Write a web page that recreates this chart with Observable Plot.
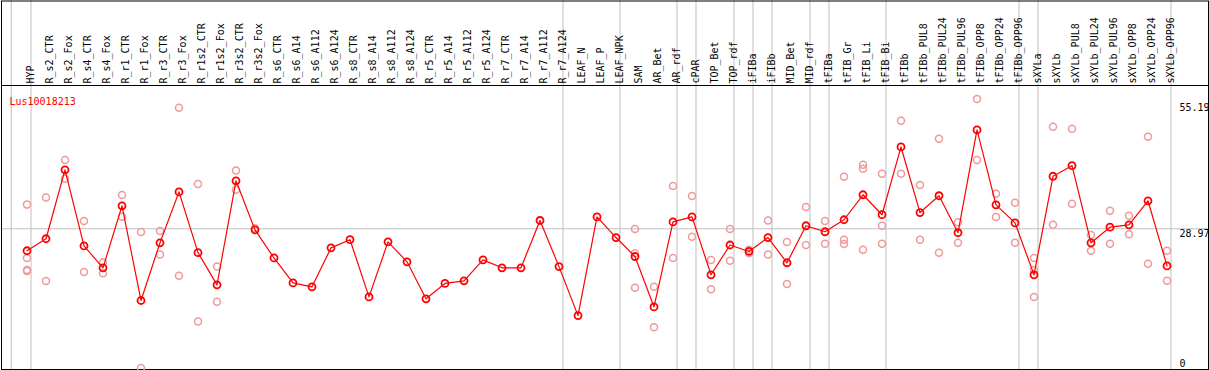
<!DOCTYPE html>
<html>
<head>
<meta charset="utf-8">
<script src="https://cdn.jsdelivr.net/npm/d3@7"></script>
<script src="https://cdn.jsdelivr.net/npm/@observablehq/plot@0.6"></script>
<style>
  html, body { margin: 0; padding: 0; background: white; }
  #chart svg { display: block; }
</style>
</head>
<body>
<div id="chart"></div>
<script>
const geneName = "Lus10018213";

const categories = [
  "HYP", "R_s2_CTR", "R_s2_Fox", "R_s4_CTR", "R_s4_Fox", "R_r1_CTR", "R_r1_Fox",
  "R_r3_CTR", "R_r3_Fox", "R_r1s2_CTR", "R_r1s2_Fox", "R_r3s2_CTR", "R_r3s2_Fox",
  "R_s6_CTR", "R_s6_A14", "R_s6_A112", "R_s6_A124", "R_s8_CTR", "R_s8_A14", "R_s8_A112",
  "R_s8_A124", "R_r5_CTR", "R_r5_A14", "R_r5_A112", "R_r5_A124", "R_r7_CTR", "R_r7_A14",
  "R_r7_A112", "R_r7_A124", "LEAF_N", "LEAF_P", "LEAF_NPK", "SAM", "AR_Bet", "AR_rdf",
  "cPAR", "TOP_Bet", "TOP_rdf", "iFIBa", "iFIBb", "MID_Bet", "MID_rdf", "tFIBa",
  "tFIB_Gr", "tFIB_Li", "tFIB_Bi", "tFIBb", "tFIBb_PUL8", "tFIBb_PUL24", "tFIBb_PUL96",
  "tFIBb_OPP8", "tFIBb_OPP24", "tFIBb_OPP96", "sXYLa", "sXYLb", "sXYLb_PUL8",
  "sXYLb_PUL24", "sXYLb_PUL96", "sXYLb_OPP8", "sXYLb_OPP24", "sXYLb_OPP96"
];

const means = [
  24.4, 26.9, 41.25, 25.4, 20.85, 33.75, 14.05, 26.05, 36.65, 24.0, 17.3, 38.95, 28.75,
  22.9, 17.7, 16.9, 25.0, 26.7, 14.8, 26.25, 22.1, 14.4, 17.6, 18.15, 22.5, 20.85, 20.85,
  30.7, 21.1, 10.9, 31.45, 27.15, 23.2, 12.7, 30.4, 31.45, 19.4, 25.6, 24.25, 27.15,
  21.9, 29.6, 28.35, 30.85, 36.05, 31.9, 46.0, 32.35, 35.85, 28.15, 49.55, 33.95, 30.2,
  19.4, 39.9, 42.1, 26.05, 29.3, 29.8, 34.8, 21.25
];

const replicates = [
  [34.0, 22.9, 20.4, 20.2], [35.5, 18.1], [43.3, 39.4], [30.6, 20.0], [22.0, 19.7],
  [36.0, 31.5], [28.3, 0.0], [28.5, 23.6], [54.15, 19.2], [38.3, 9.7], [21.1, 13.8],
  [41.1, 37.1], [29.1],
  [], [], [], [], [], [], [], [], [], [], [], [], [], [], [], [], [], [], [],
  [28.95, 23.9, 16.7], [16.9, 8.5], [37.9, 22.9], [35.8, 27.3], [22.5, 16.4],
  [28.95, 22.3], [24.6, 23.9], [30.7, 23.6], [26.2, 17.5], [33.5, 25.6], [30.6, 25.85],
  [39.8, 26.7, 25.8], [42.3, 41.45, 24.6], [40.4, 29.6, 25.85], [51.45, 40.4],
  [38.1, 26.7], [47.7, 24.0], [30.35, 26.05], [56.0, 43.3], [36.25, 31.45], [34.4, 26.05],
  [22.9, 20.4, 14.8], [50.2, 29.8], [49.8, 34.2], [27.7, 24.4], [32.7, 25.85],
  [31.7, 27.85], [48.1, 21.7], [24.4, 18.15]
];

// group boundaries: category index after which a separator line is drawn
const groupEnds = [-1.04, 0, 28, 31, 34, 35, 37, 38, 39, 41, 42, 45, 52, 53, 60];

const yMax = 55.19;
const yRef = 28.97;
const yLabelsTop = [55.19, 28.97];
const yLabelsBottom = [0];

const repData = replicates.flatMap((vals, i) => vals.map(v => ({i, v})));
const meanData = means.map((v, i) => ({i, v, name: categories[i]}));

const font = "DejaVu Sans Mono, monospace";

const chart = Plot.plot({
  width: 1209,
  height: 370,
  marginTop: 85,
  marginLeft: 1,
  marginRight: 1,
  marginBottom: 1,
  x: {type: "linear", domain: [0, categories.length - 1], range: [26.5, 1166.5], axis: null},
  y: {domain: [0, yMax], range: [367.5, 102.3], axis: null},
  style: {background: "white", fontFamily: font},
  marks: [
    Plot.ruleY([yRef], {stroke: "#c0c0c0", strokeWidth: 1}),
    Plot.ruleX(groupEnds, {x: d => d + 0.21, stroke: "#c0c0c0", strokeWidth: 1, insetTop: -85}),
    Plot.frame({stroke: "black", strokeWidth: 1}),
    Plot.frame({stroke: "black", strokeWidth: 1, insetTop: -84.5}),
    Plot.text(categories, {
      x: (d, i) => i, frameAnchor: "top", text: d => d, rotate: -90,
      textAnchor: "start", dy: -2, fontSize: 10, fontFamily: font, fill: "black"
    }),
    Plot.text([geneName], {
      frameAnchor: "top-left", text: d => d, dx: 8, dy: 12, textAnchor: "start",
      fill: "red", fontSize: 10, fontFamily: font
    }),
    Plot.text(yLabelsTop, {
      y: d => d, frameAnchor: "right", text: d => d.toFixed(2), textAnchor: "start",
      dx: -29, lineAnchor: "top", dy: 1, fontSize: 10, fontFamily: font, fill: "black"
    }),
    Plot.text(yLabelsBottom, {
      y: d => d, frameAnchor: "right", text: d => String(d), textAnchor: "start",
      dx: -29, lineAnchor: "bottom", dy: -1, fontSize: 10, fontFamily: font, fill: "black"
    }),
    Plot.dot(repData, {x: "i", y: "v", r: 3.5, stroke: "#ee9a9a", strokeWidth: 1.5, fill: "none"}),
    Plot.line(meanData, {x: "i", y: "v", stroke: "red", strokeWidth: 1.2}),
    Plot.dot(meanData, {x: "i", y: "v", r: 3.5, stroke: "red", strokeWidth: 1.8, fill: "none"})
  ]
});

document.getElementById("chart").appendChild(chart);
</script>
</body>
</html>
